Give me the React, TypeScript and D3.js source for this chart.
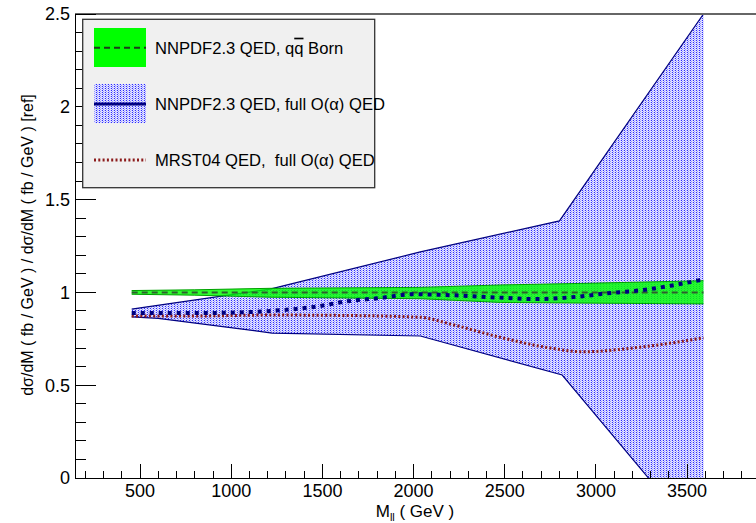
import * as d3 from 'd3';

// NNPDF2.3 QED full O(alpha) band edges
const massBandUp = [454, 1213, 2037, 2800, 3590];
const fullBandUp = [0.91, 1.018, 1.218, 1.385, 2.5];
const massBandLo = [454, 600, 1224, 2037, 2815, 3590];
const fullBandLo = [0.868, 0.86, 0.781, 0.765, 0.555, -0.354];

// NNPDF2.3 QED qqbar Born band
const massBorn = [454, 800, 1213, 2037, 2476, 3000, 3590];
const bornUp = [1.01, 1.014, 1.022, 1.027, 1.04, 1.05, 1.063];
const bornLo = [0.99, 0.985, 0.974, 0.966, 0.946, 0.942, 0.938];
const bornCentral = [1, 1, 1, 1, 1, 1, 1];

// central curves
const massNnpdf = [454, 850, 1213, 1460, 1650, 1800, 2000, 2200, 2490, 2660, 2900, 3060, 3260, 3410, 3590];
const nnpdfFull = [0.889, 0.889, 0.9, 0.923, 0.954, 0.968, 0.99, 0.985, 0.971, 0.964, 0.977, 0.995, 1.013, 1.036, 1.07];
const massMrst = [454, 800, 1213, 1600, 2037, 2200, 2476, 2750, 2930, 3200, 3590];
const mrstFull = [0.873, 0.873, 0.878, 0.876, 0.866, 0.83, 0.758, 0.7, 0.68, 0.7, 0.755];

const xMajor = [500, 1000, 1500, 2000, 2500, 3000, 3500];
const yMajor = [0, 0.5, 1, 1.5, 2, 2.5];
const yLabels = ['0', '0.5', '1', '1.5', '2', '2.5'];

const legendLabels = ['NNPDF2.3 QED, ', 'NNPDF2.3 QED, full O(\u03b1) QED', 'MRST04 QED,\u00a0 full O(\u03b1) QED'];

const W = 756;
const H = 523;
const L = 75;
const R = 760;
const T = 14;
const B = 478;
const font = '"Liberation Sans", Arial, Helvetica, sans-serif';

const App = () => {
  const x = d3.scaleLinear().domain([143, 3900]).range([L, R]);
  const y = d3.scaleLinear().domain([0, 2.5]).range([B, T]);

  const pts = (xs: number[], ys: number[]) => xs.map((m, i) => [m, ys[i]] as [number, number]);
  const line = d3
    .line<[number, number]>()
    .x((d) => x(d[0]))
    .y((d) => y(d[1]));
  const smooth = d3
    .line<[number, number]>()
    .x((d) => x(d[0]))
    .y((d) => y(d[1]))
    .curve(d3.curveMonotoneX);

  const fullBand = line([...pts(massBandUp, fullBandUp), ...pts(massBandLo, fullBandLo).reverse()]) + 'Z';
  const bornBand = line([...pts(massBorn, bornUp), ...pts(massBorn, bornLo).reverse()]) + 'Z';

  const xMinor = d3.range(200, 3901, 100).filter((v) => v % 500 !== 0);
  const yMinor = d3.range(0, 26).map((i) => i / 10).filter((_, i) => i % 5 !== 0);

  const lx0 = 94;
  const lx1 = 146;
  const rows = [47.7, 104, 160];

  return (
    <svg
      width={W}
      height={H}
      style={{ position: 'absolute', left: 0, top: 0, display: 'block', background: '#fff' }}
      fontFamily={font}
    >
      <defs>
        <clipPath id="plot">
          <rect x={L} y={T} width={R - L} height={B - T} />
        </clipPath>
        <pattern id="dots" width={3} height={2} patternUnits="userSpaceOnUse">
          <rect width={3} height={2} fill="#e4e4ff" shapeRendering="crispEdges" />
          <rect x={0} y={0} width={1} height={1} fill="#2a2aff" shapeRendering="crispEdges" />
          <rect x={1} y={1} width={1} height={1} fill="#9a9aff" shapeRendering="crispEdges" />
          <rect x={2} y={0} width={1} height={1} fill="#c4c4ff" shapeRendering="crispEdges" />
        </pattern>
      </defs>

      <g clipPath="url(#plot)">
        <path d={fullBand} fill="url(#dots)" />
        <path d={line(pts(massBandUp, fullBandUp)) ?? ''} fill="none" stroke="#000080" strokeWidth={1.2} />
        <path d={line(pts(massBandLo, fullBandLo)) ?? ''} fill="none" stroke="#000080" strokeWidth={1.2} />

        <path d={bornBand} fill="#00ff00" fillOpacity={0.82} />
        <path d={line(pts(massBorn, bornUp)) ?? ''} fill="none" stroke="#00a000" strokeWidth={1} />
        <path d={line(pts(massBorn, bornLo)) ?? ''} fill="none" stroke="#00a000" strokeWidth={1} />
        <path
          d={line(pts(massBorn, bornCentral)) ?? ''}
          fill="none"
          stroke="#2e5e2e"
          strokeWidth={2}
          strokeDasharray="6 4"
        />

        <path
          d={smooth(pts(massMrst, mrstFull)) ?? ''}
          fill="none"
          stroke="#8c1c1c"
          strokeWidth={3}
          strokeDasharray="2 2.3"
        />
        <path
          d={smooth(pts(massNnpdf, nnpdfFull)) ?? ''}
          fill="none"
          stroke="#000080"
          strokeWidth={4}
          strokeDasharray="4 5"
        />
      </g>

      {/* frame */}
      <line x1={L} x2={W} y1={T} y2={T} stroke="#666" strokeWidth={2} />
      <g stroke="#000" strokeWidth={1} shapeRendering="crispEdges">
        <line x1={L} x2={W} y1={B} y2={B} />
        <line x1={L} x2={L} y1={T} y2={B} />
        {xMajor.map((v) => (
          <line key={'xM' + v} x1={x(v)} x2={x(v)} y1={B} y2={B - 14} />
        ))}
        {xMinor.map((v) => (
          <line key={'xm' + v} x1={x(v)} x2={x(v)} y1={B} y2={B - 7} />
        ))}
        {yMajor.map((v) => (
          <line key={'yM' + v} x1={L} x2={L + 21} y1={y(v)} y2={y(v)} />
        ))}
        {yMinor.map((v) => (
          <line key={'ym' + v} x1={L} x2={L + 10.5} y1={y(v)} y2={y(v)} />
        ))}
      </g>

      <g fontSize={18} fill="#000">
        {xMajor.map((v) => (
          <text key={'xl' + v} x={x(v)} y={497} textAnchor="middle">
            {v}
          </text>
        ))}
        {yMajor.map((v, i) => (
          <text key={'yl' + v} x={70} y={y(v)} dy="0.36em" textAnchor="end">
            {yLabels[i]}
          </text>
        ))}
        <text x={415} y={517} textAnchor="middle" fontSize={17}>
          M
          <tspan fontSize={11} dy={4}>
            ll
          </tspan>
          <tspan dy={-4}> ( GeV )</tspan>
        </text>
        <text transform="translate(33,245) rotate(-90)" textAnchor="middle" fontSize={16}>
          d{'\u03c3'}/dM ( fb / GeV ) / d{'\u03c3'}/dM ( fb / GeV ) [ref]
        </text>
      </g>

      {/* legend */}
      <rect x={82.7} y={19.3} width={292} height={168.4} fill="#f0f0f0" stroke="#333" strokeWidth={1.3} />
      <rect x={lx0} y={28} width={lx1 - lx0} height={39} fill="#00ff00" />
      <line x1={lx0} x2={lx1} y1={rows[0]} y2={rows[0]} stroke="#1e3a1e" strokeWidth={2} strokeDasharray="6 4" />
      <rect x={lx0} y={84} width={lx1 - lx0} height={39} fill="url(#dots)" />
      <line x1={lx0} x2={lx1} y1={rows[1]} y2={rows[1]} stroke="#000080" strokeWidth={3} />
      <line x1={lx0} x2={lx1} y1={rows[2]} y2={rows[2]} stroke="#8c1c1c" strokeWidth={3} strokeDasharray="2 2.3" />
      <g fontSize={16.6} fill="#000">
        <text x={155} y={rows[0]} dy="0.36em">
          {legendLabels[0]}q<tspan style={{ textDecoration: 'overline' }}>q</tspan> Born
        </text>
        <text x={155} y={rows[1]} dy="0.36em">
          {legendLabels[1]}
        </text>
        <text x={155} y={rows[2]} dy="0.36em">
          {legendLabels[2]}
        </text>
      </g>
    </svg>
  );
};

export default App;
